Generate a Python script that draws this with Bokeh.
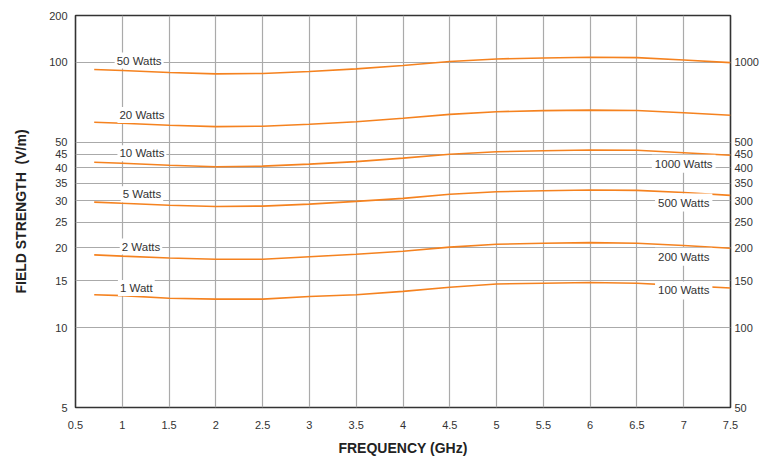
from bokeh.plotting import figure
from bokeh.models import Range1d, LogAxis, FixedTicker, ColumnDataSource, LogScale
from bokeh.embed import file_html
from bokeh.resources import INLINE
from bokeh.core.properties import value

# ---------------- data ----------------
freq = [0.7, 1.0, 1.5, 2.0, 2.5, 3.0, 3.5, 4.0, 4.5, 5.0, 5.5, 6.0, 6.5, 7.0, 7.5]

w50 = [93.9, 93.1, 91.5, 90.4, 90.7, 92.3, 94.4, 97.2, 100.6, 102.9, 103.8, 104.4, 104.1, 102.0, 99.7]
w20 = [59.4, 58.9, 57.9, 57.2, 57.4, 58.4, 59.7, 61.5, 63.6, 65.1, 65.7, 66.0, 65.8, 64.5, 63.1]
w10 = [42.0, 41.6, 40.9, 40.4, 40.6, 41.3, 42.2, 43.5, 45.0, 46.0, 46.4, 46.7, 46.6, 45.6, 44.6]
w5 = [29.7, 29.4, 28.9, 28.6, 28.7, 29.2, 29.9, 30.7, 31.8, 32.5, 32.8, 33.0, 32.9, 32.3, 31.5]
w2 = [18.8, 18.6, 18.3, 18.1, 18.1, 18.5, 18.9, 19.4, 20.1, 20.6, 20.8, 20.9, 20.8, 20.4, 19.9]
w1 = [13.3, 13.2, 12.9, 12.8, 12.8, 13.1, 13.3, 13.7, 14.2, 14.6, 14.7, 14.8, 14.7, 14.4, 14.1]
series = [w50, w20, w10, w5, w2, w1]

left_label_text = ["50 Watts", "20 Watts", "10 Watts", "5 Watts", "2 Watts", "1 Watt"]
left_label_x = [1.18, 1.21, 1.21, 1.21, 1.2, 1.15]
left_label_y = [101.5, 63.3, 45.4, 31.8, 20.2, 14.1]

right_label_text = ["1000 Watts", "500 Watts", "200 Watts", "100 Watts"]
right_label_x = [7.0, 7.0, 7.0, 7.0]
right_label_y = [414, 296, 185, 138]

x_ticks = [0.5, 1, 1.5, 2, 2.5, 3, 3.5, 4, 4.5, 5, 5.5, 6, 6.5, 7, 7.5]
x_tick_labels = ["0.5", "1", "1.5", "2", "2.5", "3", "3.5", "4", "4.5", "5", "5.5", "6", "6.5", "7", "7.5"]
x_grid = [1, 1.5, 2, 2.5, 3, 3.5, 4, 4.5, 5, 5.5, 6, 6.5, 7]

y_ticks = [5, 10, 15, 20, 25, 30, 35, 40, 45, 50, 100, 150]
y_tick_labels = ["5", "10", "15", "20", "25", "30", "35", "40", "45", "50", "100", "200"]
y_grid = [10, 15, 20, 25, 30, 35, 40, 45, 50, 100]

yr_ticks = [50, 100, 150, 200, 250, 300, 350, 400, 450, 500, 1000]
yr_tick_labels = ["50", "100", "150", "200", "250", "300", "350", "400", "450", "500", "1000"]

# ---------------- styles ----------------
ORANGE = "#f5821f"
GRID = "#aaaaaa"
TXT = "#333333"
FONT = "Liberation Sans"

p = figure(width=761, height=458,
           x_range=Range1d(0.5, 7.5), y_range=Range1d(5, 150),
           y_axis_type="log", output_backend="svg", toolbar_location=None,
           min_border_top=15, min_border_left=75, min_border_right=0, min_border_bottom=51)
p.background_fill_color = "white"
p.border_fill_color = "white"
p.outline_line_color = "#333333"
p.outline_line_width = 1.6

p.extra_y_ranges = {"right": Range1d(50, 1500)}
p.extra_y_scales = {"right": LogScale()}
raxis = LogAxis(y_range_name="right", ticker=FixedTicker(ticks=yr_ticks))
raxis.major_label_overrides = dict(zip(yr_ticks, yr_tick_labels))
p.add_layout(raxis, "right")

p.xaxis.ticker = FixedTicker(ticks=x_ticks)
p.xaxis.major_label_overrides = dict(zip(x_ticks, x_tick_labels))
p.yaxis[0].ticker = FixedTicker(ticks=y_ticks)
p.yaxis[0].major_label_overrides = dict(zip(y_ticks, y_tick_labels))

for ax in p.axis:
    ax.axis_line_color = None
    ax.major_tick_line_color = None
    ax.minor_tick_line_color = None
    ax.major_tick_out = 0
    ax.major_tick_in = 0
    ax.minor_tick_out = 0
    ax.minor_tick_in = 0
    ax.major_label_text_font = FONT
    ax.major_label_text_font_size = "11px"
    ax.major_label_text_color = TXT
    ax.axis_label_text_font = FONT
    ax.axis_label_text_font_style = "bold"
    ax.axis_label_text_font_size = "14px"
    ax.axis_label_text_color = "#222222"

p.xaxis.axis_label = "FREQUENCY (GHz)"
p.xaxis.major_label_standoff = 13
p.xaxis.axis_label_standoff = 8
p.yaxis[0].axis_label = "FIELD STRENGTH \u00a0(V/m)"
p.yaxis[0].major_label_standoff = 8
p.yaxis[0].axis_label_standoff = 17
raxis.major_label_standoff = 4

p.xgrid.ticker = FixedTicker(ticks=x_grid)
p.ygrid.ticker = FixedTicker(ticks=y_grid)
p.grid.grid_line_color = GRID
p.grid.grid_line_width = 1.2

for s in series:
    p.line(freq, s, line_color=ORANGE, line_width=1.6)

lsrc = ColumnDataSource(dict(x=left_label_x, y=left_label_y, text=left_label_text))
p.text(x="x", y="y", text="text", source=lsrc, text_align="center", text_baseline="middle",
       text_font=value(FONT), text_font_size="11.5px", text_color=TXT,
       background_fill_color="white", padding=2)

rsrc = ColumnDataSource(dict(x=right_label_x, y=right_label_y, text=right_label_text))
p.text(x="x", y="y", text="text", source=rsrc, y_range_name="right",
       text_align="center", text_baseline="middle",
       text_font=value(FONT), text_font_size="11.5px", text_color=TXT,
       background_fill_color="white", padding=3)

open("out.html", "w").write(file_html(p, INLINE))
